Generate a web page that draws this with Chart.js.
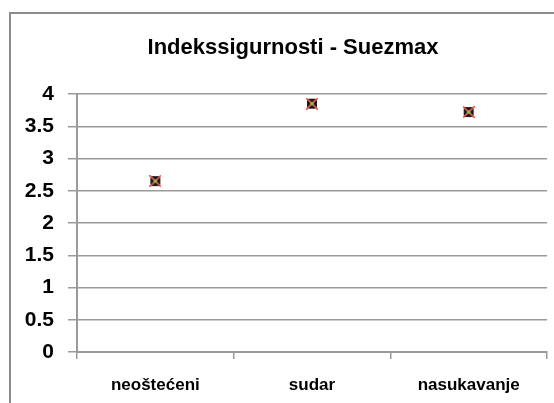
<!DOCTYPE html>
<html>
<head>
<meta charset="utf-8">
<script src="https://cdn.jsdelivr.net/npm/chart.js@4/dist/chart.umd.min.js"></script>
<style>
  html, body { margin: 0; padding: 0; background: #fff; overflow: hidden; }
  canvas { display: block; }
</style>
</head>
<body>
<canvas id="chart" width="554" height="403"></canvas>
<script>
const categories = ['neoštećeni', 'sudar', 'nasukavanje'];
const indexValues = [2.65, 3.85, 3.72];
const yTicks = [0, 0.5, 1, 1.5, 2, 2.5, 3, 3.5, 4];
const chartTitle = 'Indekssigurnosti - Suezmax';

// Excel-style marker: dark square, red cross, green centre
function makeMarker() {
  const c = document.createElement('canvas');
  c.width = 12; c.height = 12;
  const g = c.getContext('2d');
  g.fillStyle = '#1a1a1a';
  g.fillRect(1, 1, 10, 10);
  g.strokeStyle = '#e8584f';
  g.lineWidth = 1.6;
  g.beginPath();
  g.moveTo(0, 0); g.lineTo(12, 12);
  g.moveTo(12, 0); g.lineTo(0, 12);
  g.stroke();
  g.fillStyle = '#8cc84e';
  g.fillRect(4.5, 4.5, 3, 3);
  return c;
}

// outer chart frame (top and left edges) plus the title, centred on the frame
const frameAndTitle = {
  id: 'frameAndTitle',
  beforeDraw(chart) {
    const g = chart.ctx;
    g.save();
    g.strokeStyle = '#8c8c8c';
    g.lineWidth = 2;
    g.beginPath();
    g.moveTo(10, chart.height + 2);
    g.lineTo(10, 13);
    g.lineTo(chart.width + 2, 13);
    g.stroke();
    g.fillStyle = '#000';
    g.font = 'bold 22px "Liberation Sans"';
    g.textAlign = 'center';
    g.textBaseline = 'middle';
    g.fillText(chartTitle, 293, 48);
    g.restore();
  }
};

const gridColor = '#9a9a9a';
const ctx = document.getElementById('chart').getContext('2d');
new Chart(ctx, {
  type: 'line',
  data: {
    labels: categories,
    datasets: [{
      label: 'Indeks sigurnosti',
      data: indexValues,
      showLine: false,
      pointStyle: makeMarker(),
      pointRadius: 6,
      pointHoverRadius: 6
    }]
  },
  plugins: [frameAndTitle],
  options: {
    responsive: false,
    animation: false,
    layout: { padding: { left: 0, right: 4, top: 94, bottom: 0 } },
    plugins: {
      legend: { display: false },
      tooltip: { enabled: false },
      title: { display: false }
    },
    scales: {
      x: {
        offset: true,
        afterFit: s => { s.height = 51; },
        grid: { offset: true, drawOnChartArea: false, color: gridColor, tickLength: 7, lineWidth: 1.5 },
        border: { color: gridColor, width: 2 },
        ticks: {
          color: '#000',
          padding: 16,
          maxRotation: 0,
          font: { family: 'Liberation Sans', size: 17, weight: 'bold' }
        }
      },
      y: {
        min: 0,
        max: 4,
        afterBuildTicks: s => { s.ticks = yTicks.map(v => ({ value: v })); },
        afterFit: s => { s.width = 77; },
        grid: { color: gridColor, tickLength: 9, lineWidth: 1.5 },
        border: { color: gridColor, width: 2 },
        ticks: {
          color: '#000',
          padding: 14,
          callback: v => String(v),
          font: { family: 'Liberation Sans', size: 21, weight: 'bold' }
        }
      }
    }
  }
});
</script>
</body>
</html>
